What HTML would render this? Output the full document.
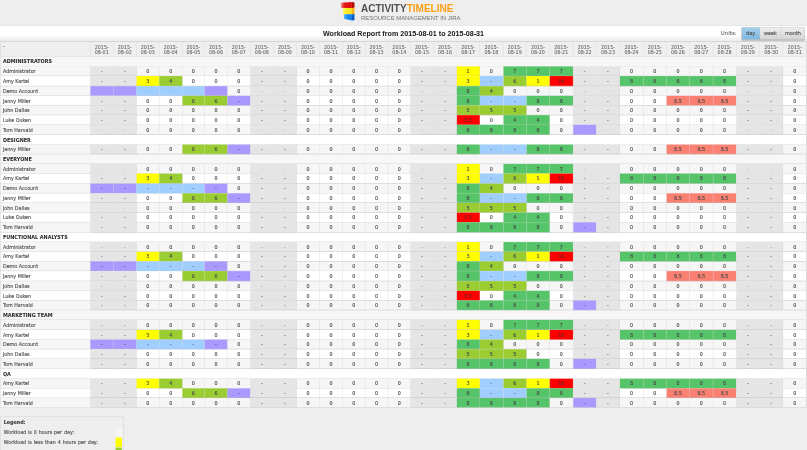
<!DOCTYPE html>
<html lang="en">
<head>
<meta charset="utf-8">
<title>Workload Report - ActivityTimeline</title>
<style>
html,body{margin:0;padding:0;background:#eeeeee;}
body{width:807px;height:450px;overflow:hidden;position:relative;font-family:"DejaVu Sans","Liberation Sans",sans-serif;}
#page{-webkit-text-stroke:0.35px;position:absolute;left:0;top:0;width:1920px;height:1071px;transform:scale(0.4203125);transform-origin:0 0;background:#eeeeee;overflow:hidden;color:#555;font-size:11.4px;}
.top{-webkit-text-stroke:0;position:absolute;left:0;top:0;width:1920px;height:61px;background:#eeeeee;border-bottom:1px solid #dddddd;}
.logo{position:absolute;left:811px;top:0;height:61px;width:520px;}
.mark{position:absolute;left:0.3px;top:4.8px;width:33.3px;height:45.2px;}
.word{position:absolute;left:48px;top:0;white-space:nowrap;}
.w1{position:absolute;left:0;top:5px;font-family:"Liberation Sans",sans-serif;font-weight:bold;font-size:27px;line-height:30px;transform:scaleX(0.882);transform-origin:0 0;}
.act{color:#505054;}
.tl{color:#fb9f14;}
.w2{position:absolute;left:0;top:33px;font-family:"Liberation Sans",sans-serif;font-size:14.4px;color:#727272;line-height:18px;transform:scaleX(0.978);transform-origin:0 0;}
.bar{position:absolute;left:0;top:62px;width:1920px;height:36px;background:linear-gradient(#fff 0%,#fff 55%,#ececec 100%);border-bottom:1px solid #a8a8a8;}
.title{position:absolute;left:0;right:0;top:0;text-align:center;font-weight:bold;font-size:17px;line-height:37.5px;color:#222;-webkit-text-stroke:0.1px;font-family:"Liberation Sans",sans-serif;}
.units{position:absolute;left:1715px;top:2px;height:31px;white-space:nowrap;-webkit-text-stroke:0.15px;}
.ul{position:absolute;left:0;top:0;line-height:31px;font-size:13px;color:#606060;}
.btns{position:absolute;left:49px;top:0;width:151px;height:31px;box-sizing:border-box;border:1px solid #b4b4b4;border-bottom-color:#9c9c9c;border-radius:4px;overflow:hidden;background:#ddd;display:flex;box-shadow:0 1px 2px rgba(0,0,0,0.18);}
.bt{height:29px;line-height:28px;font-size:11.7px;color:#3a3a3a;text-align:center;background:linear-gradient(#efefef,#d4d4d4);border-right:1px solid #b4b4b4;box-sizing:border-box;}
.bt.on{background:linear-gradient(#a6d2ee,#7ab6e0);width:43px;border-right-color:#7da6c4;}
.bt.wk{width:52px;}
.bt.last{border-right:0;width:55px;}
table,thead,tbody,tr,th,td{display:block;margin:0;padding:0;border:0;font-weight:normal;text-align:left;border-spacing:0;}
.tbl{position:absolute;left:0;top:99px;width:1919.3px;border-right:1px solid #c4c4c4;overflow:hidden;}
.hr{height:36px;display:flex;background:#efefef;box-sizing:border-box;border-bottom:1px solid #d0d0d0;}
.hc{flex:none;box-sizing:border-box;border-right:1px solid #dcdcdc;-webkit-text-stroke:0.15px;text-align:center;font-size:11.4px;line-height:11.5px;padding-top:8.5px;color:#606060;}
.c0{box-sizing:border-box;padding-left:6px;border-left:1px solid #ccc;flex:none;text-align:left;}
.hr .c0{border-right:1px solid #dcdcdc;}
.h0{line-height:23px;color:#555;}
.gr{display:block;height:23.21px;box-sizing:border-box;border-left:1px solid #ccc;border-bottom:1px solid #d0d0d0;}
.gr.ge{background:#f7f7f7;}
.gr.go{background:#ffffff;}
.gn{-webkit-text-stroke:0.1px;font-weight:bold;color:#2a2a2a;padding-left:6px;line-height:24px;font-size:11.6px;}
.r{height:23.21px;display:flex;line-height:24px;box-sizing:border-box;}
.r .c0{border-bottom:1px solid #d0d0d0;border-right:1px solid #e0e0e0;}
.r.a{background:#f6f6f6;}
.r.b{background:#ffffff;}
.c{flex:none;box-sizing:border-box;text-align:center;border-right:1px solid rgba(212,212,212,0.75);border-bottom:1px solid rgba(188,188,188,0.85);color:#4a4a4a;}
.c.kw{background:#e5e5e5;}
.c.ky{background:#ffff00;}
.c.ko{background:#9acd32;}
.c.kg{background:#56c468;}
.c.kr{background:#ff0000;color:#6a2626;}
.c.ks{background:#fa8072;}
.c.kb{background:#a0cfff;}
.c.kp{background:#aa99ff;}
.r.lt .d{color:#b4b4b4;}
.r.lt .d.kp{color:#9486dd;}
.r.lt .d.kb{color:#8db6e0;}
.r.lu .d{color:#9c9c9c;}
.r.lv .d{color:#808080;}
.r.last{height:22.4px;line-height:25px;}
.legend{position:absolute;left:0;top:991px;width:294.5px;height:120px;border:1px solid #d2d2d2;box-sizing:border-box;background:#eeeeee;}
.lt2{position:absolute;left:8px;top:5.5px;font-weight:bold;color:#444;font-size:11.4px;line-height:14px;word-spacing:0.8px;}
.li{position:absolute;left:8px;right:0;height:23.5px;line-height:23px;font-size:11.4px;color:#555;word-spacing:0.9px;}
.li.l1{top:25.3px;}
.li.l2{top:48.9px;}
.li.l3{top:72.5px;}
.sw{position:absolute;left:265.8px;top:0;width:15.6px;height:23.6px;}
.r>:nth-child(1),.hr>:nth-child(1){width:215.08px}
.r>:nth-child(2),.hr>:nth-child(2){width:54.96px}
.r>:nth-child(3),.hr>:nth-child(3){width:54.72px}
.r>:nth-child(4),.hr>:nth-child(4){width:54.72px}
.r>:nth-child(5),.hr>:nth-child(5){width:54.25px}
.r>:nth-child(6),.hr>:nth-child(6){width:53.77px}
.r>:nth-child(7),.hr>:nth-child(7){width:53.77px}
.r>:nth-child(8),.hr>:nth-child(8){width:54.72px}
.r>:nth-child(9),.hr>:nth-child(9){width:54.96px}
.r>:nth-child(10),.hr>:nth-child(10){width:54.72px}
.r>:nth-child(11),.hr>:nth-child(11){width:54.96px}
.r>:nth-child(12),.hr>:nth-child(12){width:54.96px}
.r>:nth-child(13),.hr>:nth-child(13){width:53.29px}
.r>:nth-child(14),.hr>:nth-child(14){width:54.96px}
.r>:nth-child(15),.hr>:nth-child(15){width:53.53px}
.r>:nth-child(16),.hr>:nth-child(16){width:54.48px}
.r>:nth-child(17),.hr>:nth-child(17){width:54.96px}
.r>:nth-child(18),.hr>:nth-child(18){width:54.96px}
.r>:nth-child(19),.hr>:nth-child(19){width:55.91px}
.r>:nth-child(20),.hr>:nth-child(20){width:55.20px}
.r>:nth-child(21),.hr>:nth-child(21){width:55.20px}
.r>:nth-child(22),.hr>:nth-child(22){width:55.67px}
.r>:nth-child(23),.hr>:nth-child(23){width:55.67px}
.r>:nth-child(24),.hr>:nth-child(24){width:55.43px}
.r>:nth-child(25),.hr>:nth-child(25){width:56.15px}
.r>:nth-child(26),.hr>:nth-child(26){width:54.96px}
.r>:nth-child(27),.hr>:nth-child(27){width:55.20px}
.r>:nth-child(28),.hr>:nth-child(28){width:55.91px}
.r>:nth-child(29),.hr>:nth-child(29){width:54.96px}
.r>:nth-child(30),.hr>:nth-child(30){width:55.67px}
.r>:nth-child(31),.hr>:nth-child(31){width:55.43px}
.r>:nth-child(32),.hr>:nth-child(32){width:56.86px}
</style>
</head>
<body>
<div id="page">
<div class="top">
  <div class="logo">
    <svg class="mark" viewBox="0 0 140 190" preserveAspectRatio="none">
      <defs>
        <linearGradient id="gr" x1="0" x2="1" y1="0" y2="0"><stop offset="0" stop-color="#f39a9a"/><stop offset="0.3" stop-color="#e21a1a"/><stop offset="1" stop-color="#dc0a0a"/></linearGradient>
        <linearGradient id="gy" x1="0" x2="1" y1="0" y2="0"><stop offset="0" stop-color="#fff66a"/><stop offset="0.4" stop-color="#ffee22"/><stop offset="1" stop-color="#ffdc18"/></linearGradient>
        <linearGradient id="gb" x1="0" x2="1" y1="0" y2="0"><stop offset="0" stop-color="#5cb8ff"/><stop offset="0.4" stop-color="#1a90f4"/><stop offset="1" stop-color="#0c7ce8"/></linearGradient>
      </defs>
      <polygon points="0,6 110,0 110,58 0,58" fill="url(#gr)"/>
      <polygon points="110,0 136,5 136,56 110,58" fill="#b40808"/>
      <polygon points="21,58 110,58 110,121 21,121" fill="url(#gy)"/>
      <polygon points="110,58 136,56 136,119 110,121" fill="#ffb41e"/>
      <polygon points="30,121 110,121 110,185 30,167" fill="url(#gb)"/>
      <polygon points="110,121 136,119 136,181 110,185" fill="#0a5cc8"/>
    </svg>
    <div class="word"><div class="w1"><span class="act">ACTIVITY</span><span class="tl">TIMELINE</span></div><div class="w2">RESOURCE MANAGEMENT IN JIRA</div></div>
  </div>
</div>
<div class="bar">
  <div class="title">Workload Report from 2015-08-01 to 2015-08-31</div>
  <div class="units"><span class="ul">Units:</span><span class="btns"><span class="bt on">day</span><span class="bt wk">week</span><span class="bt last">month</span></span></div>
</div>
<table class="tbl">
<thead><tr class="hr"><th class="c0 h0">-</th><th class="hc">2015-<br>08-01</th><th class="hc">2015-<br>08-02</th><th class="hc">2015-<br>08-03</th><th class="hc">2015-<br>08-04</th><th class="hc">2015-<br>08-05</th><th class="hc">2015-<br>08-06</th><th class="hc">2015-<br>08-07</th><th class="hc">2015-<br>08-08</th><th class="hc">2015-<br>08-09</th><th class="hc">2015-<br>08-10</th><th class="hc">2015-<br>08-11</th><th class="hc">2015-<br>08-12</th><th class="hc">2015-<br>08-13</th><th class="hc">2015-<br>08-14</th><th class="hc">2015-<br>08-15</th><th class="hc">2015-<br>08-16</th><th class="hc">2015-<br>08-17</th><th class="hc">2015-<br>08-18</th><th class="hc">2015-<br>08-19</th><th class="hc">2015-<br>08-20</th><th class="hc">2015-<br>08-21</th><th class="hc">2015-<br>08-22</th><th class="hc">2015-<br>08-23</th><th class="hc">2015-<br>08-24</th><th class="hc">2015-<br>08-25</th><th class="hc">2015-<br>08-26</th><th class="hc">2015-<br>08-27</th><th class="hc">2015-<br>08-28</th><th class="hc">2015-<br>08-29</th><th class="hc">2015-<br>08-30</th><th class="hc">2015-<br>08-31</th></tr></thead><tbody>
<tr class="gr ge"><th class="gn" colspan="32">ADMINISTRATORS</th></tr>
<tr class="r a"><td class="c0">Administrator</td><td class="c kw d">-</td><td class="c kw d">-</td><td class="c">0</td><td class="c">0</td><td class="c">0</td><td class="c">0</td><td class="c">0</td><td class="c kw d">-</td><td class="c kw d">-</td><td class="c">0</td><td class="c">0</td><td class="c">0</td><td class="c">0</td><td class="c">0</td><td class="c kw d">-</td><td class="c kw d">-</td><td class="c ky">1</td><td class="c">0</td><td class="c kg">7</td><td class="c kg">7</td><td class="c kg">7</td><td class="c kw d">-</td><td class="c kw d">-</td><td class="c">0</td><td class="c">0</td><td class="c">0</td><td class="c">0</td><td class="c">0</td><td class="c kw d">-</td><td class="c kw d">-</td><td class="c">0</td></tr>
<tr class="r b"><td class="c0">Amy Kartel</td><td class="c kw d">-</td><td class="c kw d">-</td><td class="c ky">3</td><td class="c ko">4</td><td class="c">0</td><td class="c">0</td><td class="c">0</td><td class="c kw d">-</td><td class="c kw d">-</td><td class="c">0</td><td class="c">0</td><td class="c">0</td><td class="c">0</td><td class="c">0</td><td class="c kw d">-</td><td class="c kw d">-</td><td class="c ky">3</td><td class="c kb d">-</td><td class="c ko">6</td><td class="c ky">1</td><td class="c kr">16</td><td class="c kw d">-</td><td class="c kw d">-</td><td class="c kg">8</td><td class="c kg">8</td><td class="c kg">8</td><td class="c kg">8</td><td class="c kg">8</td><td class="c kw d">-</td><td class="c kw d">-</td><td class="c">0</td></tr>
<tr class="r a lt"><td class="c0">Demo Account</td><td class="c kp d">-</td><td class="c kp d">-</td><td class="c kb d">-</td><td class="c kb d">-</td><td class="c kb d">-</td><td class="c kp d">-</td><td class="c">0</td><td class="c kw d">-</td><td class="c kw d">-</td><td class="c">0</td><td class="c">0</td><td class="c">0</td><td class="c">0</td><td class="c">0</td><td class="c kw d">-</td><td class="c kw d">-</td><td class="c kg">8</td><td class="c ko">4</td><td class="c">0</td><td class="c">0</td><td class="c">0</td><td class="c kw d">-</td><td class="c kw d">-</td><td class="c">0</td><td class="c">0</td><td class="c">0</td><td class="c">0</td><td class="c">0</td><td class="c kw d">-</td><td class="c kw d">-</td><td class="c">0</td></tr>
<tr class="r b"><td class="c0">Janny Miller</td><td class="c kw d">-</td><td class="c kw d">-</td><td class="c">0</td><td class="c">0</td><td class="c ko">6</td><td class="c ko">6</td><td class="c kp d">-</td><td class="c kw d">-</td><td class="c kw d">-</td><td class="c">0</td><td class="c">0</td><td class="c">0</td><td class="c">0</td><td class="c">0</td><td class="c kw d">-</td><td class="c kw d">-</td><td class="c kg">8</td><td class="c kb d">-</td><td class="c kb d">-</td><td class="c kg">8</td><td class="c kg">8</td><td class="c kw d">-</td><td class="c kw d">-</td><td class="c">0</td><td class="c">0</td><td class="c ks">8.5</td><td class="c ks">8.5</td><td class="c ks">8.5</td><td class="c kw d">-</td><td class="c kw d">-</td><td class="c">0</td></tr>
<tr class="r a"><td class="c0">John Dallas</td><td class="c kw d">-</td><td class="c kw d">-</td><td class="c">0</td><td class="c">0</td><td class="c">0</td><td class="c">0</td><td class="c">0</td><td class="c kw d">-</td><td class="c kw d">-</td><td class="c">0</td><td class="c">0</td><td class="c">0</td><td class="c">0</td><td class="c">0</td><td class="c kw d">-</td><td class="c kw d">-</td><td class="c ko">5</td><td class="c ko">5</td><td class="c ko">5</td><td class="c">0</td><td class="c">0</td><td class="c kw d">-</td><td class="c kw d">-</td><td class="c">0</td><td class="c">0</td><td class="c">0</td><td class="c">0</td><td class="c">0</td><td class="c kw d">-</td><td class="c kw d">-</td><td class="c">0</td></tr>
<tr class="r b"><td class="c0">Luke Ouken</td><td class="c kw d">-</td><td class="c kw d">-</td><td class="c">0</td><td class="c">0</td><td class="c">0</td><td class="c">0</td><td class="c">0</td><td class="c kw d">-</td><td class="c kw d">-</td><td class="c">0</td><td class="c">0</td><td class="c">0</td><td class="c">0</td><td class="c">0</td><td class="c kw d">-</td><td class="c kw d">-</td><td class="c kr">5.5</td><td class="c">0</td><td class="c kg">4</td><td class="c kg">4</td><td class="c">0</td><td class="c kw d">-</td><td class="c kw d">-</td><td class="c">0</td><td class="c">0</td><td class="c">0</td><td class="c">0</td><td class="c">0</td><td class="c kw d">-</td><td class="c kw d">-</td><td class="c">0</td></tr>
<tr class="r a lt"><td class="c0">Tom Harvald</td><td class="c kw d">-</td><td class="c kw d">-</td><td class="c">0</td><td class="c">0</td><td class="c">0</td><td class="c">0</td><td class="c">0</td><td class="c kw d">-</td><td class="c kw d">-</td><td class="c">0</td><td class="c">0</td><td class="c">0</td><td class="c">0</td><td class="c">0</td><td class="c kw d">-</td><td class="c kw d">-</td><td class="c kg">8</td><td class="c kg">8</td><td class="c kg">8</td><td class="c kg">8</td><td class="c">0</td><td class="c kp d">-</td><td class="c kw d">-</td><td class="c">0</td><td class="c">0</td><td class="c">0</td><td class="c">0</td><td class="c">0</td><td class="c kw d">-</td><td class="c kw d">-</td><td class="c">0</td></tr>
<tr class="gr go"><th class="gn" colspan="32">DESIGNER</th></tr>
<tr class="r a"><td class="c0">Janny Miller</td><td class="c kw d">-</td><td class="c kw d">-</td><td class="c">0</td><td class="c">0</td><td class="c ko">6</td><td class="c ko">6</td><td class="c kp d">-</td><td class="c kw d">-</td><td class="c kw d">-</td><td class="c">0</td><td class="c">0</td><td class="c">0</td><td class="c">0</td><td class="c">0</td><td class="c kw d">-</td><td class="c kw d">-</td><td class="c kg">8</td><td class="c kb d">-</td><td class="c kb d">-</td><td class="c kg">8</td><td class="c kg">8</td><td class="c kw d">-</td><td class="c kw d">-</td><td class="c">0</td><td class="c">0</td><td class="c ks">8.5</td><td class="c ks">8.5</td><td class="c ks">8.5</td><td class="c kw d">-</td><td class="c kw d">-</td><td class="c">0</td></tr>
<tr class="gr ge"><th class="gn" colspan="32">EVERYONE</th></tr>
<tr class="r a lt"><td class="c0">Administrator</td><td class="c kw d">-</td><td class="c kw d">-</td><td class="c">0</td><td class="c">0</td><td class="c">0</td><td class="c">0</td><td class="c">0</td><td class="c kw d">-</td><td class="c kw d">-</td><td class="c">0</td><td class="c">0</td><td class="c">0</td><td class="c">0</td><td class="c">0</td><td class="c kw d">-</td><td class="c kw d">-</td><td class="c ky">1</td><td class="c">0</td><td class="c kg">7</td><td class="c kg">7</td><td class="c kg">7</td><td class="c kw d">-</td><td class="c kw d">-</td><td class="c">0</td><td class="c">0</td><td class="c">0</td><td class="c">0</td><td class="c">0</td><td class="c kw d">-</td><td class="c kw d">-</td><td class="c">0</td></tr>
<tr class="r b"><td class="c0">Amy Kartel</td><td class="c kw d">-</td><td class="c kw d">-</td><td class="c ky">3</td><td class="c ko">4</td><td class="c">0</td><td class="c">0</td><td class="c">0</td><td class="c kw d">-</td><td class="c kw d">-</td><td class="c">0</td><td class="c">0</td><td class="c">0</td><td class="c">0</td><td class="c">0</td><td class="c kw d">-</td><td class="c kw d">-</td><td class="c ky">3</td><td class="c kb d">-</td><td class="c ko">6</td><td class="c ky">1</td><td class="c kr">16</td><td class="c kw d">-</td><td class="c kw d">-</td><td class="c kg">8</td><td class="c kg">8</td><td class="c kg">8</td><td class="c kg">8</td><td class="c kg">8</td><td class="c kw d">-</td><td class="c kw d">-</td><td class="c">0</td></tr>
<tr class="r a"><td class="c0">Demo Account</td><td class="c kp d">-</td><td class="c kp d">-</td><td class="c kb d">-</td><td class="c kb d">-</td><td class="c kb d">-</td><td class="c kp d">-</td><td class="c">0</td><td class="c kw d">-</td><td class="c kw d">-</td><td class="c">0</td><td class="c">0</td><td class="c">0</td><td class="c">0</td><td class="c">0</td><td class="c kw d">-</td><td class="c kw d">-</td><td class="c kg">8</td><td class="c ko">4</td><td class="c">0</td><td class="c">0</td><td class="c">0</td><td class="c kw d">-</td><td class="c kw d">-</td><td class="c">0</td><td class="c">0</td><td class="c">0</td><td class="c">0</td><td class="c">0</td><td class="c kw d">-</td><td class="c kw d">-</td><td class="c">0</td></tr>
<tr class="r b"><td class="c0">Janny Miller</td><td class="c kw d">-</td><td class="c kw d">-</td><td class="c">0</td><td class="c">0</td><td class="c ko">6</td><td class="c ko">6</td><td class="c kp d">-</td><td class="c kw d">-</td><td class="c kw d">-</td><td class="c">0</td><td class="c">0</td><td class="c">0</td><td class="c">0</td><td class="c">0</td><td class="c kw d">-</td><td class="c kw d">-</td><td class="c kg">8</td><td class="c kb d">-</td><td class="c kb d">-</td><td class="c kg">8</td><td class="c kg">8</td><td class="c kw d">-</td><td class="c kw d">-</td><td class="c">0</td><td class="c">0</td><td class="c ks">8.5</td><td class="c ks">8.5</td><td class="c ks">8.5</td><td class="c kw d">-</td><td class="c kw d">-</td><td class="c">0</td></tr>
<tr class="r a lt"><td class="c0">John Dallas</td><td class="c kw d">-</td><td class="c kw d">-</td><td class="c">0</td><td class="c">0</td><td class="c">0</td><td class="c">0</td><td class="c">0</td><td class="c kw d">-</td><td class="c kw d">-</td><td class="c">0</td><td class="c">0</td><td class="c">0</td><td class="c">0</td><td class="c">0</td><td class="c kw d">-</td><td class="c kw d">-</td><td class="c ko">5</td><td class="c ko">5</td><td class="c ko">5</td><td class="c">0</td><td class="c">0</td><td class="c kw d">-</td><td class="c kw d">-</td><td class="c">0</td><td class="c">0</td><td class="c">0</td><td class="c">0</td><td class="c">0</td><td class="c kw d">-</td><td class="c kw d">-</td><td class="c">0</td></tr>
<tr class="r b"><td class="c0">Luke Ouken</td><td class="c kw d">-</td><td class="c kw d">-</td><td class="c">0</td><td class="c">0</td><td class="c">0</td><td class="c">0</td><td class="c">0</td><td class="c kw d">-</td><td class="c kw d">-</td><td class="c">0</td><td class="c">0</td><td class="c">0</td><td class="c">0</td><td class="c">0</td><td class="c kw d">-</td><td class="c kw d">-</td><td class="c kr">5.5</td><td class="c">0</td><td class="c kg">4</td><td class="c kg">4</td><td class="c">0</td><td class="c kw d">-</td><td class="c kw d">-</td><td class="c">0</td><td class="c">0</td><td class="c">0</td><td class="c">0</td><td class="c">0</td><td class="c kw d">-</td><td class="c kw d">-</td><td class="c">0</td></tr>
<tr class="r a"><td class="c0">Tom Harvald</td><td class="c kw d">-</td><td class="c kw d">-</td><td class="c">0</td><td class="c">0</td><td class="c">0</td><td class="c">0</td><td class="c">0</td><td class="c kw d">-</td><td class="c kw d">-</td><td class="c">0</td><td class="c">0</td><td class="c">0</td><td class="c">0</td><td class="c">0</td><td class="c kw d">-</td><td class="c kw d">-</td><td class="c kg">8</td><td class="c kg">8</td><td class="c kg">8</td><td class="c kg">8</td><td class="c">0</td><td class="c kp d">-</td><td class="c kw d">-</td><td class="c">0</td><td class="c">0</td><td class="c">0</td><td class="c">0</td><td class="c">0</td><td class="c kw d">-</td><td class="c kw d">-</td><td class="c">0</td></tr>
<tr class="gr go"><th class="gn" colspan="32">FUNCTIONAL ANALYSTS</th></tr>
<tr class="r a lu"><td class="c0">Administrator</td><td class="c kw d">-</td><td class="c kw d">-</td><td class="c">0</td><td class="c">0</td><td class="c">0</td><td class="c">0</td><td class="c">0</td><td class="c kw d">-</td><td class="c kw d">-</td><td class="c">0</td><td class="c">0</td><td class="c">0</td><td class="c">0</td><td class="c">0</td><td class="c kw d">-</td><td class="c kw d">-</td><td class="c ky">1</td><td class="c">0</td><td class="c kg">7</td><td class="c kg">7</td><td class="c kg">7</td><td class="c kw d">-</td><td class="c kw d">-</td><td class="c">0</td><td class="c">0</td><td class="c">0</td><td class="c">0</td><td class="c">0</td><td class="c kw d">-</td><td class="c kw d">-</td><td class="c">0</td></tr>
<tr class="r b"><td class="c0">Amy Kartel</td><td class="c kw d">-</td><td class="c kw d">-</td><td class="c ky">3</td><td class="c ko">4</td><td class="c">0</td><td class="c">0</td><td class="c">0</td><td class="c kw d">-</td><td class="c kw d">-</td><td class="c">0</td><td class="c">0</td><td class="c">0</td><td class="c">0</td><td class="c">0</td><td class="c kw d">-</td><td class="c kw d">-</td><td class="c ky">3</td><td class="c kb d">-</td><td class="c ko">6</td><td class="c ky">1</td><td class="c kr">16</td><td class="c kw d">-</td><td class="c kw d">-</td><td class="c kg">8</td><td class="c kg">8</td><td class="c kg">8</td><td class="c kg">8</td><td class="c kg">8</td><td class="c kw d">-</td><td class="c kw d">-</td><td class="c">0</td></tr>
<tr class="r a"><td class="c0">Demo Account</td><td class="c kp d">-</td><td class="c kp d">-</td><td class="c kb d">-</td><td class="c kb d">-</td><td class="c kb d">-</td><td class="c kp d">-</td><td class="c">0</td><td class="c kw d">-</td><td class="c kw d">-</td><td class="c">0</td><td class="c">0</td><td class="c">0</td><td class="c">0</td><td class="c">0</td><td class="c kw d">-</td><td class="c kw d">-</td><td class="c kg">8</td><td class="c ko">4</td><td class="c">0</td><td class="c">0</td><td class="c">0</td><td class="c kw d">-</td><td class="c kw d">-</td><td class="c">0</td><td class="c">0</td><td class="c">0</td><td class="c">0</td><td class="c">0</td><td class="c kw d">-</td><td class="c kw d">-</td><td class="c">0</td></tr>
<tr class="r b"><td class="c0">Janny Miller</td><td class="c kw d">-</td><td class="c kw d">-</td><td class="c">0</td><td class="c">0</td><td class="c ko">6</td><td class="c ko">6</td><td class="c kp d">-</td><td class="c kw d">-</td><td class="c kw d">-</td><td class="c">0</td><td class="c">0</td><td class="c">0</td><td class="c">0</td><td class="c">0</td><td class="c kw d">-</td><td class="c kw d">-</td><td class="c kg">8</td><td class="c kb d">-</td><td class="c kb d">-</td><td class="c kg">8</td><td class="c kg">8</td><td class="c kw d">-</td><td class="c kw d">-</td><td class="c">0</td><td class="c">0</td><td class="c ks">8.5</td><td class="c ks">8.5</td><td class="c ks">8.5</td><td class="c kw d">-</td><td class="c kw d">-</td><td class="c">0</td></tr>
<tr class="r a lv"><td class="c0">John Dallas</td><td class="c kw d">-</td><td class="c kw d">-</td><td class="c">0</td><td class="c">0</td><td class="c">0</td><td class="c">0</td><td class="c">0</td><td class="c kw d">-</td><td class="c kw d">-</td><td class="c">0</td><td class="c">0</td><td class="c">0</td><td class="c">0</td><td class="c">0</td><td class="c kw d">-</td><td class="c kw d">-</td><td class="c ko">5</td><td class="c ko">5</td><td class="c ko">5</td><td class="c">0</td><td class="c">0</td><td class="c kw d">-</td><td class="c kw d">-</td><td class="c">0</td><td class="c">0</td><td class="c">0</td><td class="c">0</td><td class="c">0</td><td class="c kw d">-</td><td class="c kw d">-</td><td class="c">0</td></tr>
<tr class="r b"><td class="c0">Luke Ouken</td><td class="c kw d">-</td><td class="c kw d">-</td><td class="c">0</td><td class="c">0</td><td class="c">0</td><td class="c">0</td><td class="c">0</td><td class="c kw d">-</td><td class="c kw d">-</td><td class="c">0</td><td class="c">0</td><td class="c">0</td><td class="c">0</td><td class="c">0</td><td class="c kw d">-</td><td class="c kw d">-</td><td class="c kr">5.5</td><td class="c">0</td><td class="c kg">4</td><td class="c kg">4</td><td class="c">0</td><td class="c kw d">-</td><td class="c kw d">-</td><td class="c">0</td><td class="c">0</td><td class="c">0</td><td class="c">0</td><td class="c">0</td><td class="c kw d">-</td><td class="c kw d">-</td><td class="c">0</td></tr>
<tr class="r a"><td class="c0">Tom Harvald</td><td class="c kw d">-</td><td class="c kw d">-</td><td class="c">0</td><td class="c">0</td><td class="c">0</td><td class="c">0</td><td class="c">0</td><td class="c kw d">-</td><td class="c kw d">-</td><td class="c">0</td><td class="c">0</td><td class="c">0</td><td class="c">0</td><td class="c">0</td><td class="c kw d">-</td><td class="c kw d">-</td><td class="c kg">8</td><td class="c kg">8</td><td class="c kg">8</td><td class="c kg">8</td><td class="c">0</td><td class="c kp d">-</td><td class="c kw d">-</td><td class="c">0</td><td class="c">0</td><td class="c">0</td><td class="c">0</td><td class="c">0</td><td class="c kw d">-</td><td class="c kw d">-</td><td class="c">0</td></tr>
<tr class="gr ge"><th class="gn" colspan="32">MARKETING TEAM</th></tr>
<tr class="r a lv"><td class="c0">Administrator</td><td class="c kw d">-</td><td class="c kw d">-</td><td class="c">0</td><td class="c">0</td><td class="c">0</td><td class="c">0</td><td class="c">0</td><td class="c kw d">-</td><td class="c kw d">-</td><td class="c">0</td><td class="c">0</td><td class="c">0</td><td class="c">0</td><td class="c">0</td><td class="c kw d">-</td><td class="c kw d">-</td><td class="c ky">1</td><td class="c">0</td><td class="c kg">7</td><td class="c kg">7</td><td class="c kg">7</td><td class="c kw d">-</td><td class="c kw d">-</td><td class="c">0</td><td class="c">0</td><td class="c">0</td><td class="c">0</td><td class="c">0</td><td class="c kw d">-</td><td class="c kw d">-</td><td class="c">0</td></tr>
<tr class="r b"><td class="c0">Amy Kartel</td><td class="c kw d">-</td><td class="c kw d">-</td><td class="c ky">3</td><td class="c ko">4</td><td class="c">0</td><td class="c">0</td><td class="c">0</td><td class="c kw d">-</td><td class="c kw d">-</td><td class="c">0</td><td class="c">0</td><td class="c">0</td><td class="c">0</td><td class="c">0</td><td class="c kw d">-</td><td class="c kw d">-</td><td class="c ky">3</td><td class="c kb d">-</td><td class="c ko">6</td><td class="c ky">1</td><td class="c kr">16</td><td class="c kw d">-</td><td class="c kw d">-</td><td class="c kg">8</td><td class="c kg">8</td><td class="c kg">8</td><td class="c kg">8</td><td class="c kg">8</td><td class="c kw d">-</td><td class="c kw d">-</td><td class="c">0</td></tr>
<tr class="r a"><td class="c0">Demo Account</td><td class="c kp d">-</td><td class="c kp d">-</td><td class="c kb d">-</td><td class="c kb d">-</td><td class="c kb d">-</td><td class="c kp d">-</td><td class="c">0</td><td class="c kw d">-</td><td class="c kw d">-</td><td class="c">0</td><td class="c">0</td><td class="c">0</td><td class="c">0</td><td class="c">0</td><td class="c kw d">-</td><td class="c kw d">-</td><td class="c kg">8</td><td class="c ko">4</td><td class="c">0</td><td class="c">0</td><td class="c">0</td><td class="c kw d">-</td><td class="c kw d">-</td><td class="c">0</td><td class="c">0</td><td class="c">0</td><td class="c">0</td><td class="c">0</td><td class="c kw d">-</td><td class="c kw d">-</td><td class="c">0</td></tr>
<tr class="r b"><td class="c0">John Dallas</td><td class="c kw d">-</td><td class="c kw d">-</td><td class="c">0</td><td class="c">0</td><td class="c">0</td><td class="c">0</td><td class="c">0</td><td class="c kw d">-</td><td class="c kw d">-</td><td class="c">0</td><td class="c">0</td><td class="c">0</td><td class="c">0</td><td class="c">0</td><td class="c kw d">-</td><td class="c kw d">-</td><td class="c ko">5</td><td class="c ko">5</td><td class="c ko">5</td><td class="c">0</td><td class="c">0</td><td class="c kw d">-</td><td class="c kw d">-</td><td class="c">0</td><td class="c">0</td><td class="c">0</td><td class="c">0</td><td class="c">0</td><td class="c kw d">-</td><td class="c kw d">-</td><td class="c">0</td></tr>
<tr class="r a"><td class="c0">Tom Harvald</td><td class="c kw d">-</td><td class="c kw d">-</td><td class="c">0</td><td class="c">0</td><td class="c">0</td><td class="c">0</td><td class="c">0</td><td class="c kw d">-</td><td class="c kw d">-</td><td class="c">0</td><td class="c">0</td><td class="c">0</td><td class="c">0</td><td class="c">0</td><td class="c kw d">-</td><td class="c kw d">-</td><td class="c kg">8</td><td class="c kg">8</td><td class="c kg">8</td><td class="c kg">8</td><td class="c">0</td><td class="c kp d">-</td><td class="c kw d">-</td><td class="c">0</td><td class="c">0</td><td class="c">0</td><td class="c">0</td><td class="c">0</td><td class="c kw d">-</td><td class="c kw d">-</td><td class="c">0</td></tr>
<tr class="gr go"><th class="gn" colspan="32">QA</th></tr>
<tr class="r a"><td class="c0">Amy Kartel</td><td class="c kw d">-</td><td class="c kw d">-</td><td class="c ky">3</td><td class="c ko">4</td><td class="c">0</td><td class="c">0</td><td class="c">0</td><td class="c kw d">-</td><td class="c kw d">-</td><td class="c">0</td><td class="c">0</td><td class="c">0</td><td class="c">0</td><td class="c">0</td><td class="c kw d">-</td><td class="c kw d">-</td><td class="c ky">3</td><td class="c kb d">-</td><td class="c ko">6</td><td class="c ky">1</td><td class="c kr">16</td><td class="c kw d">-</td><td class="c kw d">-</td><td class="c kg">8</td><td class="c kg">8</td><td class="c kg">8</td><td class="c kg">8</td><td class="c kg">8</td><td class="c kw d">-</td><td class="c kw d">-</td><td class="c">0</td></tr>
<tr class="r b"><td class="c0">Janny Miller</td><td class="c kw d">-</td><td class="c kw d">-</td><td class="c">0</td><td class="c">0</td><td class="c ko">6</td><td class="c ko">6</td><td class="c kp d">-</td><td class="c kw d">-</td><td class="c kw d">-</td><td class="c">0</td><td class="c">0</td><td class="c">0</td><td class="c">0</td><td class="c">0</td><td class="c kw d">-</td><td class="c kw d">-</td><td class="c kg">8</td><td class="c kb d">-</td><td class="c kb d">-</td><td class="c kg">8</td><td class="c kg">8</td><td class="c kw d">-</td><td class="c kw d">-</td><td class="c">0</td><td class="c">0</td><td class="c ks">8.5</td><td class="c ks">8.5</td><td class="c ks">8.5</td><td class="c kw d">-</td><td class="c kw d">-</td><td class="c">0</td></tr>
<tr class="r a last"><td class="c0">Tom Harvald</td><td class="c kw d">-</td><td class="c kw d">-</td><td class="c">0</td><td class="c">0</td><td class="c">0</td><td class="c">0</td><td class="c">0</td><td class="c kw d">-</td><td class="c kw d">-</td><td class="c">0</td><td class="c">0</td><td class="c">0</td><td class="c">0</td><td class="c">0</td><td class="c kw d">-</td><td class="c kw d">-</td><td class="c kg">8</td><td class="c kg">8</td><td class="c kg">8</td><td class="c kg">8</td><td class="c">0</td><td class="c kp d">-</td><td class="c kw d">-</td><td class="c">0</td><td class="c">0</td><td class="c">0</td><td class="c">0</td><td class="c">0</td><td class="c kw d">-</td><td class="c kw d">-</td><td class="c">0</td></tr>
</tbody></table>
<div class="legend">
  <div class="lt2">Legend:</div>
  <div class="li l1"><span>Workload is 0 hours per day:</span><i class="sw" style="background:#f5f5f5"></i></div>
  <div class="li l2"><span>Workload is less than 4 hours per day:</span><i class="sw" style="background:#ffff00"></i></div>
  <div class="li l3"><span>Workload is less than 8 hours per day:</span><i class="sw" style="background:#9acd32"></i></div>
</div>
</div>
</body>
</html>
